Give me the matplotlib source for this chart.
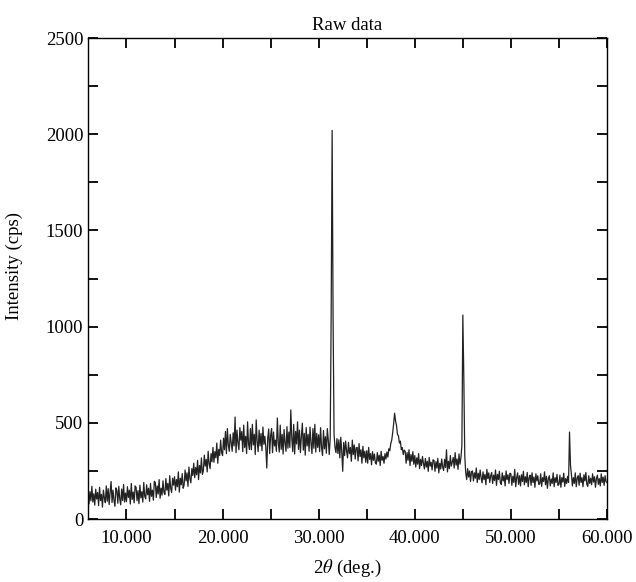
import numpy as np
import matplotlib.pyplot as plt
from matplotlib.ticker import MultipleLocator, FormatStrFormatter

plt.rcParams['font.family'] = 'Liberation Serif'
plt.rcParams['mathtext.fontset'] = 'stix'

# 2theta from 6.0 to 60.0 deg, step 0.1 (one row per degree)
two_theta = np.round(np.arange(6.0, 60.05, 0.1), 1)

intensity = [
    160, 78, 142, 95, 170, 88, 131, 72, 155, 104,        # 6
    138, 70, 165, 96, 128, 62, 150, 110, 85, 172,        # 7
    92, 158, 75, 140, 195, 86, 150, 98, 66, 162,         # 8
    148, 82, 170, 105, 74, 156, 96, 180, 88, 135,        # 9
    90, 168, 112, 150, 78, 185, 102, 140, 84, 172,       # 10
    165, 95, 148, 80, 176, 110, 142, 88, 190, 118,       # 11
    105, 178, 126, 160, 92, 185, 118, 150, 98, 196,      # 12
    190, 112, 172, 130, 205, 108, 160, 124, 198, 138,    # 13
    128, 210, 150, 185, 120, 225, 160, 138, 212, 176,    # 14
    220, 150, 205, 168, 245, 140, 212, 178, 236, 160,    # 15
    178, 255, 198, 240, 170, 270, 210, 188, 262, 226,    # 16
    290, 215, 268, 230, 305, 205, 278, 240, 318, 232,    # 17
    250, 332, 275, 310, 245, 352, 288, 262, 340, 298,    # 18
    372, 295, 350, 318, 395, 290, 362, 330, 410, 345,    # 19
    330, 420, 360, 455, 340, 470, 385, 352, 440, 398,    # 20
    352, 448, 380, 530, 345, 462, 395, 360, 475, 410,    # 21
    455, 350, 488, 372, 430, 340, 505, 390, 362, 470,    # 22
    360, 492, 385, 440, 335, 515, 402, 350, 462, 380,    # 23
    445, 355, 478, 388, 430, 372, 265, 420, 468, 340,    # 24
    435, 470, 345, 452, 380, 410, 352, 525, 395, 348,    # 25
    488, 362, 440, 338, 465, 395, 352, 480, 368, 452,    # 26
    372, 567, 420, 350, 492, 338, 455, 390, 505, 362,    # 27
    462, 345, 430, 498, 358, 445, 332, 475, 380, 440,    # 28
    352, 478, 395, 340, 470, 368, 492, 348, 445, 372,    # 29
    438, 350, 475, 372, 330, 460, 365, 428, 342, 470,    # 30
    410, 335, 420, 1060, 2020, 1040, 440, 372, 345, 418, # 31
    340, 412, 318, 425, 352, 248, 398, 330, 405, 355,    # 32
    318, 398, 340, 372, 300, 410, 335, 385, 312, 370,    # 33
    372, 302, 392, 325, 360, 290, 378, 318, 352, 295,    # 34
    355, 290, 372, 310, 340, 282, 350, 305, 338, 292,    # 35
    285, 345, 300, 332, 278, 352, 305, 325, 290, 340,    # 36
    312, 348, 322, 365, 355, 392, 410, 448, 495, 550,    # 37
    510, 485, 440, 432, 395, 405, 360, 372, 335, 358,    # 38
    352, 290, 345, 305, 360, 278, 335, 300, 350, 285,    # 39
    330, 270, 318, 285, 340, 262, 310, 278, 325, 290,    # 40
    260, 315, 270, 300, 248, 320, 275, 295, 255, 308,    # 41
    305, 248, 298, 265, 315, 240, 290, 260, 312, 270,    # 42
    252, 310, 268, 360, 245, 300, 262, 330, 275, 295,    # 43
    320, 265, 345, 280, 312, 258, 338, 285, 318, 380,    # 44
    1060, 740, 330, 240, 205, 262, 218, 250, 195, 245,   # 45
    250, 198, 240, 212, 265, 190, 238, 205, 255, 215,    # 46
    188, 245, 205, 232, 178, 258, 210, 240, 190, 225,    # 47
    242, 185, 228, 200, 255, 175, 232, 205, 248, 190,    # 48
    180, 240, 198, 225, 172, 250, 205, 230, 185, 238,    # 49
    235, 175, 222, 190, 258, 168, 215, 240, 180, 225,    # 50
    172, 230, 195, 248, 178, 220, 190, 242, 168, 215,    # 51
    228, 175, 240, 190, 218, 165, 235, 198, 225, 180,    # 52
    182, 235, 170, 215, 195, 245, 178, 222, 160, 210,    # 53
    225, 172, 208, 185, 240, 168, 215, 190, 232, 175,    # 54
    180, 228, 165, 215, 192, 238, 170, 210, 185, 222,    # 55
    190, 452, 280, 230, 172, 215, 185, 240, 168, 212,    # 56
    225, 175, 238, 190, 215, 168, 230, 198, 242, 180,    # 57
    170, 225, 185, 212, 178, 235, 192, 220, 165, 210,    # 58
    228, 180, 210, 172, 235, 190, 218, 175, 225, 195,    # 59
    190,                                                 # 60
]

fig = plt.figure(figsize=(6.36, 5.82), dpi=100)
ax = fig.add_axes([0.1384, 0.1082, 0.8160, 0.8265])

ax.plot(two_theta, intensity, color='#222222', lw=0.9)

ax.set_xlim(6, 60)
ax.set_ylim(0, 2500)
ax.xaxis.set_major_locator(MultipleLocator(10))
ax.xaxis.set_minor_locator(MultipleLocator(5))
ax.yaxis.set_major_locator(MultipleLocator(500))
ax.yaxis.set_minor_locator(MultipleLocator(250))
ax.xaxis.set_major_formatter(FormatStrFormatter('%.3f'))

ax.tick_params(which='both', direction='in', top=True, right=True,
               length=7, width=1.3, labelsize=13.5)
ax.tick_params(axis='x', pad=8)
for s in ax.spines.values():
    s.set_linewidth(1.0)

ax.set_xlabel(r'2$\theta$ (deg.)', fontsize=13.5, labelpad=8)
ax.set_ylabel('Intensity (cps)', fontsize=13.5)
ax.yaxis.set_label_coords(-0.125, 0.525)
ax.set_title('Raw data', fontsize=13.5, pad=6)

fig.savefig('out.png', dpi=100)
